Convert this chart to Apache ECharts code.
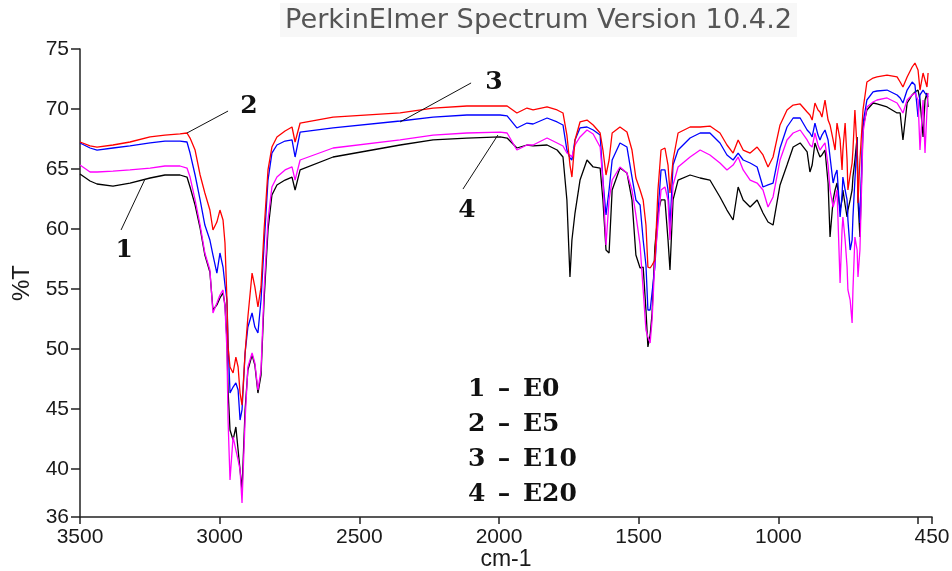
<!DOCTYPE html>
<html>
<head>
<meta charset="utf-8">
<script src="https://cdn.jsdelivr.net/npm/echarts@6/dist/echarts.min.js"></script>
<style>
html,body{margin:0;padding:0;background:#fff;}
#chart{width:952px;height:571px;}
</style>
</head>
<body>
<div id="chart"></div>
<script>
// Wavenumbers (cm-1) shared by all spectra
const wavenumbers = [3500,3464,3439,3382,3321,3249,3196,3142,3117,3106,3088,3070,3053,3035,3024,3010,2999,2988,2981,2974,2970,2963,2952,2942,2934,2927,2920,2909,2899,2884,2874,2863,2852,2841,2827,2813,2795,2766,2741,2730,2712,2594,2354,2236,2115,1996,1971,1936,1900,1878,1828,1792,1771,1757,1746,1739,1728,1710,1685,1663,1638,1628,1617,1606,1595,1567,1542,1524,1510,1495,1484,1474,1467,1459,1452,1442,1431,1420,1406,1395,1388,1377,1359,1316,1280,1245,1209,1184,1162,1144,1126,1101,1076,1055,1037,1019,994,969,947,922,897,887,879,869,858,851,844,833,822,815,804,797,790,779,772,769,761,754,751,743,736,733,726,718,715,708,697,683,661,647,611,575,564,554,539,521,511,500,493,482,475,468,464];

// %T values
const tE0 = [64.58,64.00,63.75,63.58,63.83,64.25,64.50,64.50,64.33,63.50,62.00,60.08,57.83,56.42,53.25,53.67,54.25,54.67,53.67,50.75,46.58,43.25,42.42,43.50,41.58,39.92,38.25,44.92,48.25,49.50,48.67,46.33,47.83,54.08,59.92,62.83,63.67,64.08,64.33,63.25,64.92,66.00,67.00,67.42,67.58,67.67,67.58,66.75,67.00,66.92,67.00,66.58,66.00,62.42,56.00,59.08,61.33,64.08,65.75,65.17,65.08,62.42,58.25,58.00,63.25,65.08,64.67,62.42,57.83,56.75,56.83,53.25,50.17,51.17,53.00,58.50,61.33,62.42,62.42,59.08,56.58,62.42,64.08,64.50,64.25,64.08,62.67,61.58,60.75,63.50,62.42,61.83,62.42,61.33,60.58,60.33,63.67,65.33,66.83,67.17,66.42,64.75,65.33,67.17,66.42,66.00,66.17,66.58,63.83,59.33,62.42,63.25,63.83,61.58,62.42,63.25,62.00,61.00,61.58,62.42,63.25,64.33,65.75,67.67,62.42,59.33,68.50,69.92,70.50,70.42,70.17,69.67,69.67,67.42,70.50,71.17,71.42,71.58,70.75,67.67,70.75,71.33,70.17];
const tE5 = [67.25,66.92,66.83,67.00,67.25,67.67,67.83,67.92,68.00,67.58,66.58,64.50,63.00,61.58,59.92,60.58,61.58,60.75,58.83,54.08,50.17,48.50,48.00,49.33,48.50,46.33,45.33,49.67,52.67,56.33,55.17,53.50,55.17,59.92,64.92,66.83,67.67,68.17,68.50,67.25,68.83,69.33,69.67,70.08,70.25,70.25,70.25,69.67,70.08,69.92,70.17,69.92,69.67,67.83,65.33,64.33,67.42,68.92,69.08,68.67,68.00,66.58,64.50,65.75,68.00,68.50,68.08,66.58,64.25,63.25,62.42,60.33,56.83,56.75,57.00,57.42,63.25,66.58,66.75,65.33,63.00,65.75,68.00,68.50,68.50,68.58,68.00,67.00,66.33,67.42,66.58,66.33,66.83,66.17,65.17,66.00,68.67,69.92,70.33,70.42,69.75,69.50,69.08,70.50,69.92,69.75,69.33,70.75,69.08,68.67,67.42,66.58,68.83,67.42,64.92,66.58,68.83,65.75,63.25,64.50,65.50,66.58,69.92,66.58,62.17,65.75,69.92,72.25,72.58,72.67,72.83,72.67,72.25,71.83,72.67,73.50,73.83,73.25,71.58,73.00,72.42,71.83,73.00];
const tE10 = [67.17,66.75,66.58,66.75,66.92,67.17,67.33,67.33,67.25,66.33,64.50,62.42,60.33,59.08,57.83,56.33,58.00,56.83,55.33,54.08,50.75,46.33,46.83,47.17,46.58,44.08,44.92,49.67,51.83,53.00,51.83,51.33,54.08,58.67,64.08,66.33,67.00,67.33,67.42,66.00,68.08,68.42,69.00,69.33,69.50,69.50,69.42,68.42,68.83,68.75,69.25,68.92,68.67,66.58,65.92,65.75,67.42,68.42,68.50,68.25,67.83,64.08,61.17,63.25,65.75,67.17,66.83,64.33,62.42,62.00,59.08,57.00,53.25,53.25,53.25,56.83,61.33,64.92,64.92,63.25,60.17,65.33,66.58,67.58,68.00,68.00,67.17,66.17,65.75,66.33,65.75,65.50,65.17,63.50,63.67,63.83,66.75,68.50,69.25,69.25,68.25,68.00,67.67,68.83,67.83,67.42,67.83,68.25,67.42,66.00,63.83,64.50,64.92,61.00,62.83,64.33,63.25,62.42,60.75,58.25,59.08,61.00,64.08,67.42,63.25,60.50,68.83,70.75,71.42,71.50,71.58,71.17,70.92,70.50,71.58,72.25,72.00,69.33,71.17,71.58,71.33,71.17,71.00];
const tE20 = [65.33,64.75,64.75,64.83,64.92,65.08,65.25,65.25,65.08,64.33,62.42,60.33,58.00,56.58,53.00,53.83,54.50,54.92,53.50,49.92,44.08,39.08,42.67,41.58,40.75,39.92,37.17,44.08,48.50,49.67,48.83,46.58,48.25,54.92,60.75,63.50,64.33,64.92,65.17,64.08,65.75,66.75,67.42,67.83,68.00,68.08,68.00,66.58,67.00,67.00,67.58,67.17,66.92,66.33,66.17,66.00,67.00,67.67,68.25,67.92,66.83,64.08,58.67,62.42,64.08,65.17,64.67,63.25,61.17,58.67,54.92,51.58,51.00,50.50,52.42,57.42,60.33,63.25,63.50,62.42,59.08,63.67,65.17,66.00,66.58,66.17,65.50,64.92,65.33,66.00,64.92,64.08,63.83,63.25,61.83,62.67,65.75,67.42,68.00,68.25,67.42,67.00,66.83,68.00,67.00,66.58,66.83,67.17,65.33,63.25,61.83,62.42,63.25,55.50,59.92,61.00,59.08,56.83,54.92,54.08,52.17,54.92,59.33,58.25,56.00,58.25,68.00,70.17,70.58,70.75,70.92,70.50,70.08,69.67,70.75,71.17,71.33,70.75,66.58,70.75,66.33,69.92,71.33];

const xTicks = [3500,3000,2500,2000,1500,1000,500,450];
const xTickLabels = [3500,3000,2500,2000,1500,1000,450];
const yTicks = [36,40,45,50,55,60,65,70,75];

const seriesNames = ['E0','E10','E20','E5'];
const seriesValues = [tE0, tE10, tE20, tE5];
const seriesColors = ['#000000','#0000ff','#ff00ff','#ff0000'];

const legendLines = [['1','E0'],['2','E5'],['3','E10'],['4','E20']];
// annotation: number, anchor on curve [cm-1, %T], leader end [cm-1,%T], text centre [cm-1,%T]
const annotations = [
  {num:'1', anchor:[3267,64.17], end:[3353,59.92], text:[3342,58.25]},
  {num:'2', anchor:[3117,68.0], end:[2970,69.83], text:[2895,70.25]},
  {num:'3', anchor:[2354,68.92], end:[2100,72.17], text:[2018,72.17]},
  {num:'4', anchor:[2004,67.83], end:[2129,63.33], text:[2115,61.58]}
];

const chart = echarts.init(document.getElementById('chart'), null, {renderer:'canvas'});
const axisColor = '#222';
const labelFont = {color:'#1a1a1a', fontFamily:'"Liberation Sans", Arial, sans-serif', fontSize:21};

chart.setOption({
  animation:false,
  backgroundColor:'#fff',
  title:{
    text:'PerkinElmer Spectrum Version 10.4.2',
    left:280, top:3,
    padding:[4,5,3,5],
    backgroundColor:'#f7f7f7',
    textStyle:{color:'#555', fontFamily:'"DejaVu Sans", Verdana, sans-serif', fontSize:27.2, fontWeight:'normal'}
  },
  grid:{left:80, right:20, top:49, bottom:54, containLabel:false, outerBoundsMode:'none'},
  xAxis:{
    type:'value', inverse:true, min:450, max:3500,
    name:'cm-1', nameLocation:'middle', nameGap:31, nameMoveOverlap:false,
    nameTextStyle:Object.assign({}, labelFont, {fontSize:23}),
    axisLine:{show:true, lineStyle:{color:axisColor, width:1.5}},
    axisTick:{show:true, length:7, inside:false, customValues:xTicks, lineStyle:{color:axisColor, width:1.5}},
    axisLabel:Object.assign({customValues:xTickLabels, margin:10, formatter:v=>String(v)}, labelFont),
    splitLine:{show:false}
  },
  yAxis:{
    type:'value', min:36, max:75,
    name:'%T', nameLocation:'middle', nameGap:46, nameRotate:90, nameMoveOverlap:false,
    nameTextStyle:Object.assign({}, labelFont, {fontSize:24}),
    axisLine:{show:true, lineStyle:{color:axisColor, width:1.5}},
    axisTick:{show:true, length:9, customValues:yTicks, lineStyle:{color:axisColor, width:1.5}},
    axisLabel:Object.assign({customValues:yTicks, margin:11, formatter:v=>String(v)}, labelFont),
    splitLine:{show:false}
  },
  series: seriesNames.map((n,k)=>({
    name:n, type:'line', showSymbol:false, symbol:'none',
    data: wavenumbers.map((w,i)=>[w, seriesValues[k][i]]),
    lineStyle:{color:seriesColors[k], width:1.3},
    itemStyle:{color:seriesColors[k]},
    z: 2+k
  }))
});

// annotations via chart coordinates
const serifFont = 'bold 25px "DejaVu Serif", "Liberation Serif", serif';
const g = [];
annotations.forEach(a=>{
  const p1 = chart.convertToPixel({gridIndex:0}, a.anchor);
  const p2 = chart.convertToPixel({gridIndex:0}, a.end);
  const pt = chart.convertToPixel({gridIndex:0}, a.text);
  g.push({type:'line', shape:{x1:p1[0],y1:p1[1],x2:p2[0],y2:p2[1]}, style:{stroke:'#111', lineWidth:1}, z:20});
  g.push({type:'text', x:pt[0], y:pt[1], style:{text:a.num, font:serifFont, fill:'#111', align:'center', verticalAlign:'middle'}, z:20});
});
legendLines.forEach((l,i)=>{
  const y = 389 + i*35;
  g.push({type:'text', x:468, y:y, style:{text:l[0], font:serifFont, fill:'#111', align:'left', verticalAlign:'middle'}, z:20});
  g.push({type:'text', x:504, y:y, style:{text:'–', font:serifFont, fill:'#111', align:'center', verticalAlign:'middle'}, z:20});
  g.push({type:'text', x:523, y:y, style:{text:l[1], font:serifFont, fill:'#111', align:'left', verticalAlign:'middle'}, z:20});
});
chart.setOption({graphic:g});
</script>
</body>
</html>
